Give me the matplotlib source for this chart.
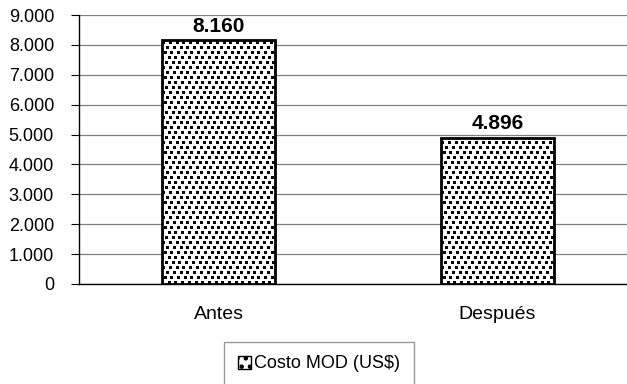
import numpy as np
import matplotlib
matplotlib.use('Agg')
import matplotlib.pyplot as plt
from matplotlib.patches import Patch
from matplotlib.ticker import FuncFormatter

categories = ['Antes', 'Después']
costo_mod = [8160, 4896]
series_name = 'Costo MOD (US$)'
y_ticks = [0, 1000, 2000, 3000, 4000, 5000, 6000, 7000, 8000, 9000]

plt.rcParams['font.family'] = ['Liberation Sans', 'DejaVu Sans']
plt.rcParams['hatch.linewidth'] = 2.0

fig = plt.figure(figsize=(6.27, 3.84), dpi=100)
W, H = 627, 384
ax = fig.add_axes([79 / W, 1 - 284 / H, 558 / W, 269 / H])

x = np.arange(len(categories))
bars = ax.bar(x, costo_mod, width=0.405, color='white', edgecolor='black',
              linewidth=2, zorder=3)

ax.set_xlim(-0.5, 1.5)
ax.set_ylim(0, 9000)


def dot_texture(bar, dx=6.7, dy=5.0, size=3.0):
    # diagonal grid of small black squares, in pixels, clipped to the bar
    x0, y0 = ax.transData.transform((bar.get_x(), 0))
    x1, y1 = ax.transData.transform((bar.get_x() + bar.get_width(), bar.get_height()))
    pts = []
    for i, py in enumerate(np.arange(y0 + 2, y1, dy)):
        off = (i * 0.4 * dx) % dx
        for px in np.arange(x0 - dx + off, x1 + dx, dx):
            pts.append((px, py))
    pts = ax.transData.inverted().transform(np.array(pts))
    sc = ax.scatter(pts[:, 0], pts[:, 1], marker='s', s=(size * 0.72) ** 2,
                    color='black', linewidths=0, zorder=3.5)
    sc.set_clip_path(bar)


for b in bars:
    dot_texture(b)

for xi, v in zip(x, costo_mod):
    ax.text(xi, v + 150, f'{v:,}'.replace(',', '.'), ha='center', va='bottom',
            fontsize=15, fontweight='bold')

ax.set_yticks(y_ticks)
ax.yaxis.set_major_formatter(FuncFormatter(lambda v, p: f'{int(v):,}'.replace(',', '.')))
ax.set_xticks(x)
ax.set_xticklabels(categories)
ax.tick_params(axis='y', length=6, width=0.8, pad=12, labelsize=13)
ax.tick_params(axis='x', length=0, pad=16, labelsize=14)
ax.yaxis.grid(True, color='#808080', linewidth=0.9, zorder=0)
ax.set_axisbelow(True)
for s in ['top', 'right']:
    ax.spines[s].set_visible(False)
ax.spines['left'].set_linewidth(1)
ax.spines['bottom'].set_linewidth(1)

handle = Patch(facecolor='white', edgecolor='black', hatch='..', linewidth=1,
               label=series_name)
leg = fig.legend(handles=[handle], loc='center',
                 bbox_to_anchor=(319 / W, 1 - 364 / H), frameon=True,
                 fancybox=False, edgecolor='#808080', fontsize=13,
                 handlelength=0.75, handleheight=0.75, handletextpad=0.15,
                 borderpad=0.75, borderaxespad=0)
leg.get_frame().set_linewidth(1)

fig.savefig('out.png', dpi=100)
